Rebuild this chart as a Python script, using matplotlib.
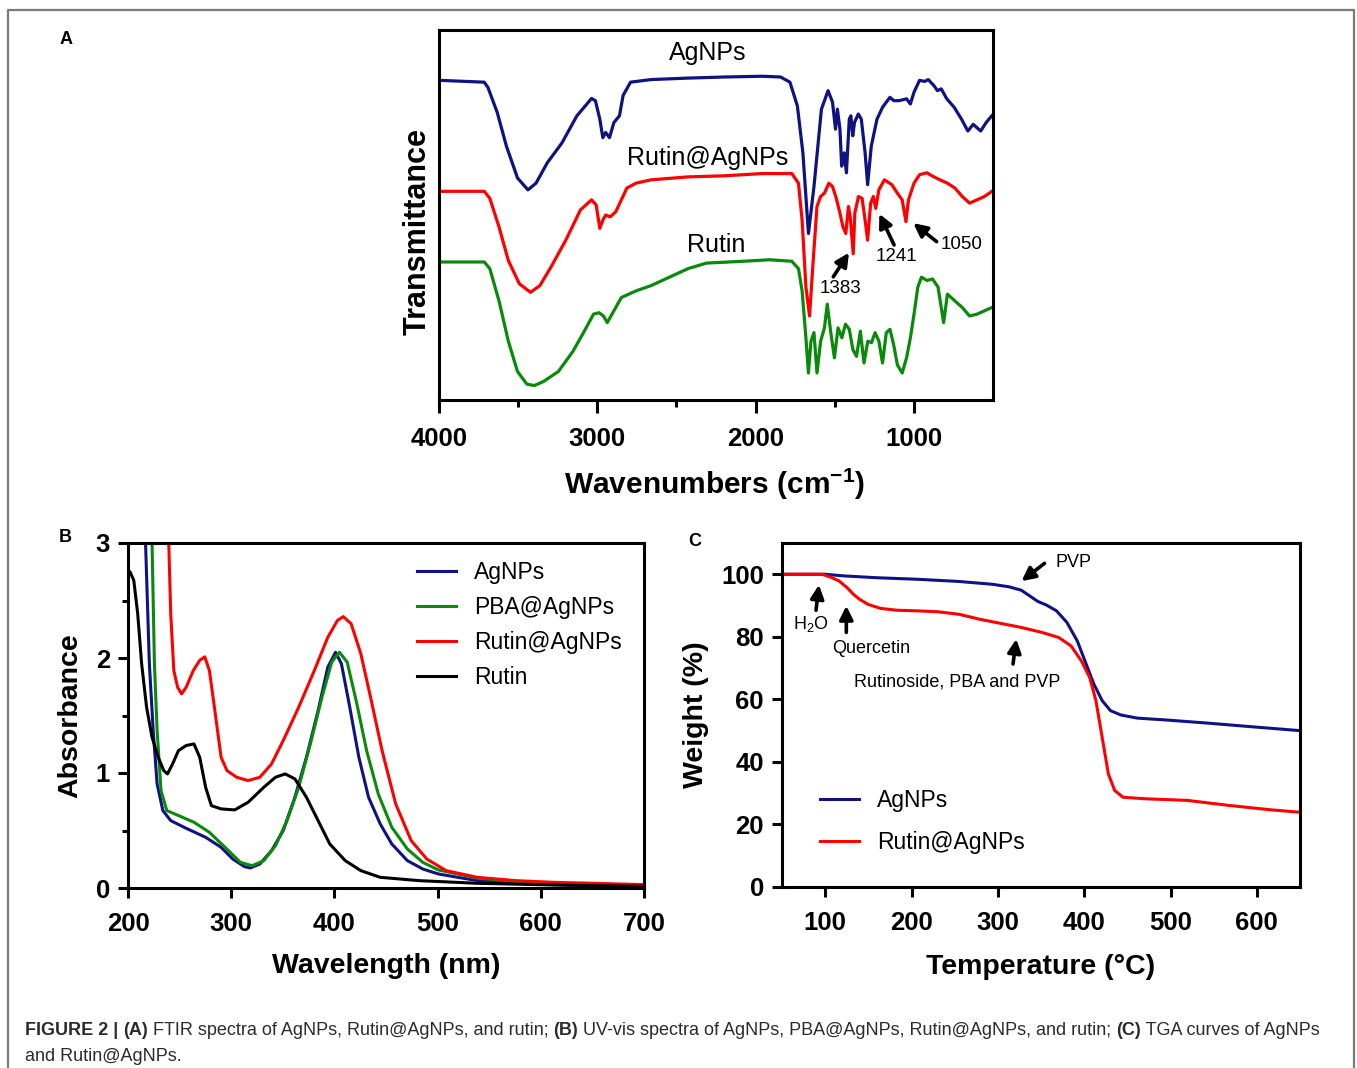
"""
FTIR / UV-vis / TGA figure (panels A, B, C) with caption
"""
import matplotlib.pyplot as plt
from matplotlib.lines import Line2D
from matplotlib.text import Annotation

plt.rcParams['font.family'] = ['Liberation Sans', 'DejaVu Sans']
plt.rcParams['mathtext.fontset'] = 'custom'
plt.rcParams['mathtext.rm'] = 'Liberation Sans'
plt.rcParams['mathtext.bf'] = 'Liberation Sans:bold'
plt.rcParams['mathtext.default'] = 'regular'

COLORS = {
    'navy': '#0f1282',
    'red': '#ff0000',
    'green': '#0a8a0a',
    'black': '#000000',
    'frame': '#7a7a7a',
    'caption': '#2b2b2b',
}

# ---------------- Panel A: FTIR (wavenumber, transmittance a.u.) ----------------
ftir_agnps_wn = [4000, 3714, 3691, 3632, 3574, 3504, 3438, 3387, 3316, 3223,
                 3129, 3036, 3012, 2984, 2965, 2947, 2923, 2895, 2860, 2837,
                 2790, 2661, 2427, 2193, 1959, 1842, 1783, 1736, 1701, 1666,
                 1631, 1584, 1542, 1514, 1495, 1483, 1467, 1456, 1440, 1426,
                 1408, 1398, 1386, 1375, 1351, 1332, 1308, 1292, 1269, 1233,
                 1198, 1174, 1151, 1127, 1093, 1046, 1022, 999, 964, 932,
                 909, 874, 851, 827, 792, 745, 699, 659, 625, 578,
                 543, 508]
ftir_agnps_t = [86.4, 85.9, 84.5, 77.7, 68.6, 60.0, 56.8, 58.6, 64.1, 69.5,
                76.8, 81.5, 80.9, 75.9, 70.9, 72.3, 70.9, 75.0, 76.8, 82.3,
                85.9, 86.6, 87.0, 87.3, 87.5, 87.3, 85.9, 79.5, 66.8, 45.0,
                57.7, 78.6, 83.6, 80.5, 73.2, 78.6, 73.2, 63.2, 66.8, 61.4,
                75.9, 76.8, 71.4, 75.0, 77.3, 75.9, 66.8, 58.2, 68.6, 75.9,
                79.1, 80.5, 81.8, 80.9, 80.9, 81.4, 80.0, 83.2, 86.4, 86.1,
                86.6, 85.0, 83.6, 84.1, 81.4, 79.1, 75.9, 72.7, 74.5, 72.7,
                75.0, 76.8]

ftir_rutin_agnps_wn = [4000, 3714, 3679, 3621, 3562, 3492, 3422, 3363, 3293, 3199,
                       3106, 3036, 3007, 2984, 2965, 2947, 2918, 2883, 2848, 2813,
                       2755, 2661, 2427, 2193, 1959, 1771, 1729, 1706, 1682, 1659,
                       1636, 1612, 1589, 1565, 1537, 1514, 1490, 1467, 1448, 1430,
                       1413, 1402, 1383, 1373, 1350, 1327, 1308, 1292, 1273, 1256,
                       1241, 1221, 1186, 1139, 1104, 1074, 1050, 1034, 999, 964,
                       917, 882, 835, 788, 741, 694, 648, 601, 554, 507]
ftir_rutin_agnps_t = [56.4, 56.4, 54.5, 46.8, 37.7, 31.4, 29.1, 30.9, 35.9, 43.2,
                      51.4, 54.1, 52.7, 46.4, 48.6, 50.0, 49.5, 50.9, 54.1, 57.3,
                      58.6, 59.5, 60.3, 60.6, 61.2, 61.2, 58.6, 48.6, 30.5, 22.7,
                      37.7, 52.3, 55.0, 55.9, 58.6, 57.7, 54.5, 50.5, 46.8, 45.0,
                      52.3, 49.5, 39.5, 50.5, 55.0, 54.5, 48.6, 43.2, 53.2, 55.0,
                      51.8, 56.8, 59.5, 58.2, 55.9, 54.1, 48.2, 54.1, 58.6, 60.9,
                      61.4, 60.5, 59.5, 58.6, 57.3, 55.0, 53.2, 54.1, 55.0, 56.4]

ftir_rutin_wn = [4000, 3714, 3679, 3621, 3562, 3504, 3445, 3398, 3340, 3246,
                 3153, 3082, 3024, 2989, 2961, 2937, 2907, 2848, 2755, 2661,
                 2544, 2427, 2310, 2076, 1912, 1771, 1729, 1706, 1682, 1666,
                 1650, 1631, 1612, 1589, 1565, 1547, 1526, 1502, 1479, 1455,
                 1432, 1408, 1385, 1362, 1338, 1315, 1291, 1268, 1245, 1221,
                 1198, 1174, 1151, 1128, 1104, 1074, 1046, 1022, 999, 975,
                 952, 917, 882, 847, 812, 788, 741, 694, 648, 601,
                 554, 507]
ftir_rutin_t = [37.3, 37.3, 35.5, 26.8, 15.9, 7.7, 4.3, 3.9, 5.0, 7.7,
                13.2, 18.6, 23.2, 23.6, 22.7, 20.9, 23.2, 27.7, 29.5, 30.9,
                33.2, 35.5, 37.0, 37.5, 37.9, 37.5, 35.5, 29.5, 16.8, 7.3,
                15.9, 18.2, 7.3, 15.9, 19.5, 25.9, 18.6, 11.4, 19.5, 16.8,
                20.5, 19.1, 13.6, 11.8, 18.6, 10.0, 15.9, 15.5, 18.2, 15.9,
                10.0, 18.2, 19.1, 15.0, 9.5, 7.3, 11.4, 16.8, 23.2, 30.5,
                33.2, 32.3, 32.7, 30.5, 20.9, 28.6, 26.8, 25.0, 22.7, 23.2,
                24.1, 25.0]

# ---------------- Panel B: UV-vis (wavelength nm, absorbance) ----------------
uv_agnps_wl = [215, 217, 220.7, 224.4, 228.2, 233.8, 241.4, 256.4, 275.2, 290.2,
               301.5, 312.8, 318.4, 327.8, 339.1, 350.4, 361.7, 372.9, 384.2, 393.6,
               401.1, 406.8, 414.3, 423.7, 433.1, 444.4, 455.6, 470.7, 485.7, 500.8,
               538.3, 575.9, 613.5, 651.1, 700]
uv_agnps_abs = [3.6, 3.0, 1.95, 1.37, 0.905, 0.673, 0.586, 0.519, 0.441, 0.354,
                0.252, 0.186, 0.174, 0.209, 0.325, 0.499, 0.789, 1.137, 1.543, 1.92,
                2.05, 1.95, 1.60, 1.137, 0.789, 0.557, 0.383, 0.238, 0.165, 0.122,
                0.064, 0.041, 0.029, 0.020, 0.015]

uv_pba_wl = [221, 223.3, 225.6, 228.2, 232, 237.6, 248.9, 263.9, 278.9, 294,
             309, 320.3, 331.6, 342.9, 354.1, 365.4, 376.7, 388, 397.4, 404.9,
             412.4, 421.8, 431.2, 442.5, 455.6, 470.7, 485.7, 500.8, 538.3, 575.9,
             613.5, 651.1, 700]
uv_pba_abs = [3.6, 3.0, 1.95, 1.37, 0.847, 0.673, 0.63, 0.572, 0.484, 0.354,
              0.223, 0.194, 0.238, 0.368, 0.586, 0.876, 1.253, 1.66, 1.964, 2.05,
              1.964, 1.60, 1.195, 0.818, 0.528, 0.339, 0.223, 0.157, 0.087, 0.055,
              0.041, 0.029, 0.02]

uv_rutin_agnps_wl = [238.5, 239.5, 241.4, 244.4, 248.1, 251.9, 256.4, 263.2, 269.5, 274.4,
                     278.9, 284.6, 290.2, 295.9, 305.3, 316.5, 327.8, 339.1, 350.4, 365.4,
                     380.5, 393.6, 403, 408.6, 416.2, 425.6, 435, 446.2, 459.4, 474.4,
                     489.5, 508.3, 538.3, 575.9, 613.5, 651.1, 700]
uv_rutin_agnps_abs = [3.6, 3.0, 2.385, 1.89, 1.746, 1.688, 1.746, 1.89, 1.98, 2.01,
                      1.89, 1.514, 1.137, 1.021, 0.963, 0.934, 0.963, 1.079, 1.282, 1.572,
                      1.89, 2.18, 2.327, 2.36, 2.298, 2.037, 1.66, 1.195, 0.731, 0.412,
                      0.252, 0.151, 0.093, 0.064, 0.049, 0.041, 0.029]

uv_rutin_wl = [200, 201.9, 205.6, 209.4, 213.2, 218, 223.3, 229.3, 234.6, 238.3,
               243.2, 248.9, 256.4, 263.9, 269.5, 275.2, 280.8, 290.2, 303.4, 316.5,
               331.6, 342.9, 352.3, 361.7, 372.9, 384.2, 395.5, 410.5, 425.6, 444.4,
               482, 538.3, 613.5, 700]
uv_rutin_abs = [2.70, 2.75, 2.675, 2.385, 1.95, 1.572, 1.311, 1.137, 1.021, 0.992,
                1.079, 1.195, 1.239, 1.253, 1.137, 0.876, 0.716, 0.688, 0.679, 0.746,
                0.876, 0.963, 0.992, 0.949, 0.789, 0.586, 0.383, 0.238, 0.151, 0.093,
                0.064, 0.041, 0.026, 0.015]

# ---------------- Panel C: TGA (temperature C, weight %) ----------------
tga_agnps_temp = [50, 100, 120.7, 159, 207, 255, 293.6, 312.8, 327.2, 336.8,
                  346.4, 356, 368, 380, 392, 401.6, 411.2, 420.8, 430.5, 442.5,
                  461.7, 495.3, 543.3, 591.4, 650]
tga_agnps_w = [100, 100, 99.5, 98.9, 98.4, 97.7, 96.8, 96.0, 94.9, 93.1,
               91.3, 90.2, 88.3, 84.6, 78.7, 71.8, 64.9, 59.6, 56.4, 55.0,
               54.0, 53.4, 52.4, 51.3, 50.0]

tga_rutin_temp = [50, 96.6, 106.2, 115.9, 125.5, 132.7, 139.9, 149.5, 163.9, 183.1,
                  207.1, 231.1, 255.1, 279.2, 303.2, 327.2, 351.2, 370.4, 384.8, 396.8,
                  406.4, 413.6, 420.8, 428, 435.3, 444.9, 471.3, 519.3, 567.3, 615.4,
                  650]
tga_rutin_w = [100, 100, 99.1, 97.9, 95.7, 93.6, 92.0, 90.4, 89.1, 88.5,
               88.3, 88.0, 87.2, 85.6, 84.3, 83.0, 81.4, 79.8, 77.1, 72.3,
               67.0, 59.6, 47.9, 36.2, 30.9, 28.7, 28.2, 27.7, 26.1, 24.7,
               23.9]

W, H = 1357, 1068
fig = plt.figure(figsize=(W / 100, H / 100), dpi=100, facecolor='white')


def fx(px):
    return px / W


def fy(py):
    return 1 - py / H


def box(left, top, right, bottom):
    return [fx(left), fy(bottom), (right - left) / W, (bottom - top) / H]


def style_spines(ax, lw=2.2):
    for s in ax.spines.values():
        s.set_linewidth(lw)
        s.set_color('black')


ARROW = dict(arrowstyle='-|>', color='black', lw=2.6, mutation_scale=20,
             shrinkA=0, shrinkB=0)

# outer frame
fig.add_artist(Line2D([fx(8), fx(8), fx(1354), fx(1354)], [0, fy(10), fy(10), 0],
                      color=COLORS['frame'], lw=1.6))

# ======================= A =======================
axA = fig.add_axes(box(439, 30, 993, 400))
axA.plot(ftir_agnps_wn, ftir_agnps_t, color=COLORS['navy'], lw=2.3)
axA.plot(ftir_rutin_agnps_wn, ftir_rutin_agnps_t, color=COLORS['red'], lw=2.3)
axA.plot(ftir_rutin_wn, ftir_rutin_t, color=COLORS['green'], lw=2.3)
axA.set_xlim(4000, 500)
axA.set_ylim(0, 100)
axA.set_yticks([])
axA.set_xticks([4000, 3000, 2000, 1000], labels=['4000', '3000', '2000', '1000'],
               fontsize=18.5, fontweight='bold')
axA.set_xticks([3500, 2500, 1500], minor=True)
axA.tick_params(axis='x', which='major', direction='out', length=9.5, width=2.2, pad=10)
axA.tick_params(axis='x', which='minor', direction='out', length=5, width=2.2)
style_spines(axA)
axA.set_xlabel(r'Wavenumbers (cm$^{\mathbf{-1}}$)', fontsize=21.5, fontweight='bold', va='center')
axA.xaxis.set_label_coords(0.498, -0.228)
axA.set_ylabel('Transmittance', fontsize=22, fontweight='bold', va='center')
axA.yaxis.set_label_coords(-0.038, 0.455)

axA.text(2300, 93.8, 'AgNPs', fontsize=18, ha='center', va='center')
axA.text(2300, 65.4, 'Rutin@AgNPs', fontsize=18, ha='center', va='center')
axA.text(2250, 41.9, 'Rutin', fontsize=18, ha='center', va='center')

axA.annotate('', xy=(1410, 39.8), xytext=(1509, 33.3), arrowprops=ARROW)
axA.text(1466, 30.2, '1383', fontsize=13.5, ha='center', va='center')
axA.annotate('', xy=(1218, 50.3), xytext=(1125, 41.9), arrowprops=ARROW)
axA.text(1108, 38.7, '1241', fontsize=13.5, ha='center', va='center')
axA.annotate('', xy=(1003, 47.8), xytext=(856, 42.8), arrowprops=ARROW)
axA.text(698, 41.9, '1050', fontsize=13.5, ha='center', va='center')

# ======================= B =======================
axB = fig.add_axes(box(128, 543, 644, 888))
axB.plot(uv_agnps_wl, uv_agnps_abs, color=COLORS['navy'], lw=2.2, label='AgNPs')
axB.plot(uv_pba_wl, uv_pba_abs, color=COLORS['green'], lw=2.2, label='PBA@AgNPs')
axB.plot(uv_rutin_agnps_wl, uv_rutin_agnps_abs, color=COLORS['red'], lw=2.2, label='Rutin@AgNPs')
axB.plot(uv_rutin_wl, uv_rutin_abs, color=COLORS['black'], lw=2.2, label='Rutin')
axB.set_xlim(200, 700)
axB.set_ylim(0, 3)
axB.set_xticks([200, 300, 400, 500, 600, 700], labels=['200', '300', '400', '500', '600', '700'],
               fontsize=18.5, fontweight='bold')
axB.set_yticks([0, 1, 2, 3], labels=['0', '1', '2', '3'], fontsize=18.5, fontweight='bold')
axB.set_yticks([0.5, 1.5, 2.5], minor=True)
axB.tick_params(which='major', direction='out', length=7, width=2.2, pad=6)
axB.tick_params(axis='x', which='major', pad=10)
axB.tick_params(which='minor', direction='out', length=4, width=2.2)
style_spines(axB)
axB.set_xlabel('Wavelength (nm)', fontsize=20.5, fontweight='bold', va='center')
axB.xaxis.set_label_coords(0.5, -0.225)
axB.set_ylabel('Absorbance', fontsize=20.5, fontweight='bold', va='center')
axB.yaxis.set_label_coords(-0.112, 0.5)
axB.legend(loc='upper left', bbox_to_anchor=(0.560, 0.947), frameon=False, fontsize=16.5,
           handlelength=1.7, handletextpad=0.8, labelspacing=0.52, borderpad=0,
           borderaxespad=0)

# ======================= C =======================
axC = fig.add_axes(box(782, 543, 1300, 887))
axC.plot(tga_agnps_temp, tga_agnps_w, color=COLORS['navy'], lw=2.2, label='AgNPs')
axC.plot(tga_rutin_temp, tga_rutin_w, color=COLORS['red'], lw=2.2, label='Rutin@AgNPs')
axC.set_xlim(50, 650)
axC.set_ylim(0, 110)
axC.set_xticks([100, 200, 300, 400, 500, 600], labels=['100', '200', '300', '400', '500', '600'],
               fontsize=18.5, fontweight='bold')
axC.set_yticks([0, 20, 40, 60, 80, 100], labels=['0', '20', '40', '60', '80', '100'],
               fontsize=18.5, fontweight='bold')
axC.tick_params(which='major', direction='out', length=7, width=2.2, pad=6)
axC.tick_params(axis='x', which='major', pad=10)
style_spines(axC)
axC.set_xlabel('Temperature (°C)', fontsize=20.5, fontweight='bold', va='center')
axC.xaxis.set_label_coords(0.5, -0.2335)
axC.set_ylabel('Weight (%)', fontsize=20.5, fontweight='bold', va='center')
axC.yaxis.set_label_coords(-0.166, 0.5)
axC.legend(loc='upper left', bbox_to_anchor=(0.0734, 0.285), frameon=False, fontsize=16.5,
           handlelength=1.7, handletextpad=0.8, labelspacing=0.82, borderpad=0,
           borderaxespad=0)

axC.annotate('', xy=(327.4, 97.8), xytext=(354.1, 103.5), arrowprops=ARROW, annotation_clip=False)
axC.text(366.8, 103.8, 'PVP', fontsize=13, ha='left', va='center')
axC.annotate('', xy=(92.8, 96.6), xytext=(89.4, 88.5), arrowprops=ARROW)
axC.text(83.7, 84.0, 'H$_2$O', fontsize=13, ha='center', va='center')
axC.annotate('', xy=(124.5, 89.9), xytext=(124.5, 81.4), arrowprops=ARROW)
axC.text(153.3, 76.4, 'Quercetin', fontsize=13, ha='center', va='center')
axC.annotate('', xy=(321.4, 79.3), xytext=(317.6, 71.3), arrowprops=ARROW)
axC.text(252.7, 65.7, 'Rutinoside, PBA and PVP', fontsize=13, ha='center', va='center')

# panel letters
fig.text(fx(66), fy(40), 'A', fontsize=13, fontweight='bold', ha='center', va='center')
fig.text(fx(65), fy(538), 'B', fontsize=13, fontweight='bold', ha='center', va='center')
fig.text(fx(695), fy(541), 'C', fontsize=13, fontweight='bold', ha='center', va='center')

# caption, bold and regular pieces chained one after another
caption_parts = [('FIGURE 2 | ', 'bold'), ('(A)', 'bold'),
                 (' FTIR spectra of AgNPs, Rutin@AgNPs, and rutin; ', 'normal'),
                 ('(B)', 'bold'),
                 (' UV-vis spectra of AgNPs, PBA@AgNPs, Rutin@AgNPs, and rutin; ', 'normal'),
                 ('(C)', 'bold'), (' TGA curves of AgNPs', 'normal')]
CAP_SIZE = 12.95
prev = fig.text(fx(25), fy(1039), caption_parts[0][0], fontsize=CAP_SIZE,
                fontweight=caption_parts[0][1], color=COLORS['caption'], va='bottom')
for txt, weight in caption_parts[1:]:
    prev = fig.add_artist(Annotation(txt, xy=(1, 0), xycoords=prev, va='bottom', ha='left',
                                     fontsize=CAP_SIZE, fontweight=weight,
                                     color=COLORS['caption']))
fig.text(fx(25), fy(1065), 'and Rutin@AgNPs.', fontsize=CAP_SIZE, color=COLORS['caption'],
         va='bottom')

fig.savefig('out.png', dpi=100, facecolor='white')
plt.close(fig)
